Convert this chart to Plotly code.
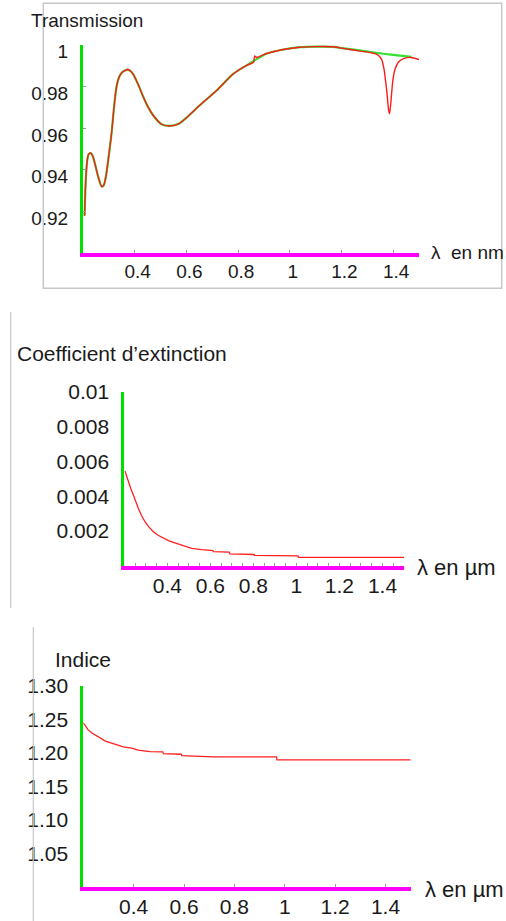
import plotly.graph_objects as go

# ---------------- data ----------------
# Panel 1: transmission (measured = red, fitted = green)
lam_T_meas = [0.206, 0.209, 0.212, 0.217, 0.222, 0.230, 0.238, 0.246, 0.258, 0.272, 0.280, 0.289,
              0.300, 0.311, 0.320, 0.330, 0.340, 0.350, 0.362,
              0.373, 0.385, 0.395, 0.413, 0.433, 0.452, 0.472, 0.504, 0.537, 0.570, 0.601,
              0.653, 0.717, 0.782, 0.833, 0.860, 0.864, 0.872, 0.911, 0.975, 1.039,
              1.100, 1.168, 1.194, 1.272, 1.310, 1.340, 1.355, 1.365, 1.375, 1.382,
              1.386, 1.391, 1.398, 1.407, 1.420, 1.440, 1.470, 1.500]
T_meas = [0.918, 0.930, 0.938, 0.945, 0.9475, 0.948, 0.9465, 0.943, 0.937, 0.932, 0.9325, 0.937,
          0.947, 0.958, 0.970, 0.980, 0.9845, 0.9865, 0.9875,
          0.988, 0.9872, 0.9856, 0.981, 0.975, 0.970, 0.966, 0.9618, 0.961, 0.962, 0.965,
          0.971, 0.978, 0.986, 0.990, 0.9915, 0.9945, 0.9938, 0.9957, 0.9976, 0.9987,
          0.999, 0.9989, 0.9984, 0.9968, 0.9962, 0.995, 0.993, 0.988, 0.978, 0.969,
          0.9668, 0.972, 0.982, 0.988, 0.9915, 0.9932, 0.9938, 0.9928]

lam_T_fit = [0.206, 0.209, 0.212, 0.217, 0.222, 0.230, 0.238, 0.246, 0.258, 0.272, 0.280, 0.289,
             0.300, 0.311, 0.320, 0.330, 0.340, 0.350, 0.362,
             0.373, 0.385, 0.395, 0.413, 0.433, 0.452, 0.472, 0.504, 0.537, 0.570, 0.601,
             0.653, 0.717, 0.782, 0.833, 0.872, 0.911, 0.975, 1.039, 1.100, 1.168,
             1.194, 1.272, 1.323, 1.400, 1.471]
T_fit = [0.918, 0.930, 0.938, 0.945, 0.9475, 0.948, 0.9465, 0.943, 0.937, 0.932, 0.9325, 0.937,
         0.947, 0.958, 0.970, 0.980, 0.9845, 0.9865, 0.9875,
         0.988, 0.9872, 0.9856, 0.981, 0.975, 0.970, 0.966, 0.9618, 0.961, 0.962, 0.965,
         0.971, 0.978, 0.986, 0.990, 0.993, 0.9957, 0.9976, 0.9987, 0.999, 0.9989,
         0.9984, 0.9972, 0.9962, 0.995, 0.9941]

# Panel 2: extinction coefficient
lam_k = [0.203, 0.211, 0.219, 0.230, 0.242, 0.253, 0.265, 0.280, 0.296, 0.315, 0.335, 0.357, 0.381,
         0.405, 0.428, 0.467, 0.513, 0.560, 0.612, 0.614, 0.688, 0.690, 0.803, 0.805,
         1.007, 1.009, 1.500]
k_vals = [0.00545, 0.00512, 0.00484, 0.00445, 0.00407, 0.00368, 0.00331, 0.00290, 0.00254, 0.00223,
          0.00197, 0.00176, 0.00159, 0.00146, 0.00136, 0.0012, 0.00101,
          0.00094, 0.00088, 0.00083, 0.00080, 0.00069, 0.00066, 0.00061, 0.00058, 0.00050, 0.00050]

# Panel 3: refractive index
lam_n = [0.200, 0.210, 0.220, 0.233, 0.247, 0.266, 0.286, 0.306, 0.326, 0.359, 0.392, 0.418,
         0.465, 0.516, 0.518, 0.589, 0.591, 0.715, 0.717, 0.967, 0.969, 1.500]
n_vals = [1.245, 1.239, 1.234, 1.230, 1.227, 1.222, 1.218, 1.2155, 1.213, 1.209, 1.207, 1.204,
          1.202, 1.2015, 1.199, 1.198, 1.196, 1.195, 1.194, 1.194, 1.1895, 1.1895]

x_tickvals = [0.4, 0.6, 0.8, 1.0, 1.2, 1.4]
x_ticktext = ["0.4", "0.6", "0.8", "1", "1.2", "1.4"]
T_tickvals = [0.92, 0.94, 0.96, 0.98, 1.0]
T_ticktext = ["0.92", "0.94", "0.96", "0.98", "1"]
k_tickvals = [0.002, 0.004, 0.006, 0.008, 0.01]
k_ticktext = ["0.002", "0.004", "0.006", "0.008", "0.01"]
n_tickvals = [1.05, 1.10, 1.15, 1.20, 1.25, 1.30]
n_ticktext = ["1.05", "1.10", "1.15", "1.20", "1.25", "1.30"]

titles = ["Transmission", "Coefficient d\u2019extinction", "Indice"]
xlabels = ["\u03bb  en nm", "\u03bb en \u00b5m", "\u03bb en \u00b5m"]

# ---------------- layout helpers ----------------
W, H = 506, 921
def px(x):
    return x / W
def py(y):
    return 1 - y / H

FONT = "Liberation Sans, Arial, sans-serif"
GREEN = "#00e000"
MAGENTA = "#ff00ff"
TXT = "#1a1a1a"

fig = go.Figure()
fig.add_trace(go.Scatter(x=lam_T_fit, y=T_fit, mode="lines",
                         line=dict(color="#33e033", width=2.2, shape="spline", smoothing=0.6),
                         xaxis="x", yaxis="y", showlegend=False))
fig.add_trace(go.Scatter(x=lam_T_meas, y=T_meas, mode="lines",
                         line=dict(color="#ff1a1a", width=1.4, shape="spline", smoothing=0.6),
                         xaxis="x", yaxis="y", showlegend=False))
fig.add_trace(go.Scatter(x=lam_k, y=k_vals, mode="lines",
                         line=dict(color="#ff2020", width=1.3), xaxis="x2", yaxis="y2",
                         showlegend=False))
fig.add_trace(go.Scatter(x=lam_n, y=n_vals, mode="lines",
                         line=dict(color="#ff2020", width=1.3), xaxis="x3", yaxis="y3",
                         showlegend=False))

def xaxis(domain, anchor, fsize, shift=0, minor=None):
    d = dict(domain=domain, anchor=anchor, range=[0.2, 1.5], automargin=False,
             showgrid=False, zeroline=False, showline=True,
             linecolor=MAGENTA, linewidth=4,
             tickmode="array", tickvals=x_tickvals, ticktext=x_ticktext,
             ticks="inside", ticklen=3, tickcolor="#999999", tickwidth=1,
             tickfont=dict(family=FONT, size=fsize, color=TXT),
             ticklabelstandoff=-2, ticklabelshift=shift, fixedrange=True)
    if minor:
        d["minor"] = minor
    return d

def yaxis(domain, anchor, rng, tv, tt, fsize, ticks="", shift=0):
    return dict(domain=domain, anchor=anchor, range=rng, automargin=False,
                showgrid=False, zeroline=False, showline=True,
                linecolor=GREEN, linewidth=3,
                tickmode="array", tickvals=tv, ticktext=tt,
                ticks=ticks, ticklen=3, tickcolor="#999999", tickwidth=1,
                tickfont=dict(family=FONT, size=fsize, color=TXT),
                ticklabelstandoff=8, ticklabelshift=shift, fixedrange=True)

fig.update_layout(
    width=W, height=H,
    margin=dict(l=0, r=0, t=0, b=0, pad=0, autoexpand=False),
    paper_bgcolor="white", plot_bgcolor="white",
    showlegend=False,
    xaxis=xaxis([px(83), px(419)], "y", 19, shift=3),
    yaxis=yaxis([py(253.3), py(44.5)], "x", [0.90, 1.00], T_tickvals, T_ticktext, 19,
                ticks="inside", shift=7),
    xaxis2=xaxis([px(124.3), px(404)], "y2", 21,
                 minor=dict(ticks="inside", ticklen=3, tickcolor="#999999",
                            tickmode="linear", tick0=0.25, dtick=0.05)),
    yaxis2=yaxis([py(566), py(391.7)], "x2", [0, 0.01], k_tickvals, k_ticktext, 21),
    xaxis3=xaxis([px(83.3), px(410.7)], "y3", 21),
    yaxis3=yaxis([py(886.7), py(686)], "x3", [1.0, 1.30], n_tickvals, n_ticktext, 21),
)

shapes = [
    dict(type="rect", xref="paper", yref="paper",
         x0=px(43.3), x1=px(501.7), y0=py(288.3), y1=py(3.3),
         line=dict(color="#c8c8c8", width=1.5)),
    dict(type="line", xref="paper", yref="paper",
         x0=px(10.7), x1=px(10.7), y0=py(608), y1=py(311.7),
         line=dict(color="#c8c8c8", width=1.2)),
    dict(type="line", xref="paper", yref="paper",
         x0=px(33.3), x1=px(33.3), y0=py(921), y1=py(627),
         line=dict(color="#c8c8c8", width=1.2)),
]
fig.update_layout(shapes=shapes)

ann = []
for txt, x, y, s in [(titles[0], 29, 20, 19), (titles[1], 15, 354, 21), (titles[2], 53, 659, 21)]:
    ann.append(dict(text=txt, xref="paper", yref="paper", x=px(x), y=py(y),
                    xanchor="left", yanchor="middle", showarrow=False,
                    font=dict(family=FONT, size=s, color=TXT)))
for txt, x, y, s in [(xlabels[0], 429, 252, 19), (xlabels[1], 415, 567, 22), (xlabels[2], 423, 889, 22)]:
    ann.append(dict(text=txt, xref="paper", yref="paper", x=px(x), y=py(y),
                    xanchor="left", yanchor="middle", showarrow=False,
                    font=dict(family=FONT, size=s, color=TXT)))
fig.update_layout(annotations=ann)

fig.write_html("out.html", config={"displayModeBar": False},
               post_script="document.body.style.margin='0';")
